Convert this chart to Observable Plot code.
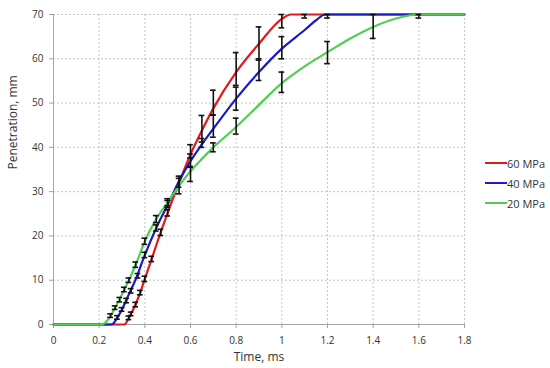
<!DOCTYPE html>
<html><head><meta charset="utf-8">
<script src="https://cdn.jsdelivr.net/npm/d3@7"></script>
<script src="https://cdn.jsdelivr.net/npm/@observablehq/plot@0.6"></script>
<style>
html,body{margin:0;padding:0;background:#fff;}
#wrap{position:relative;width:550px;height:368px;font-family:"Open Sans",sans-serif;}
#wrap svg text{fill:#333;}
.legend{position:absolute;left:485px;top:153px;font-size:11px;color:#333;}
.legend div{display:flex;align-items:center;height:20px;}
.legend span.sw{display:inline-block;width:22px;height:2.5px;margin-right:0px;}
</style></head><body><div id="wrap"></div>
<script>
// Series names and colours
const seriesNames = ["60 MPa", "40 MPa", "20 MPa"];
const seriesColors = ["#e3191b", "#1a1ac8", "#4fcf4f"];

// Tick labels
const xTicks = [0, 0.2, 0.4, 0.6, 0.8, 1.0, 1.2, 1.4, 1.6, 1.8];
const yTicks = [0, 10, 20, 30, 40, 50, 60, 70];

// Fitted curves (time, ms / penetration, mm)
const t60 = [0, 0.31, 0.33, 0.35, 0.38, 0.40, 0.43, 0.45, 0.50, 0.55, 0.60, 0.65, 0.70, 0.80, 0.90, 1.00, 1.04, 1.80];
const p60 = [0, 0, 1.5, 3.5, 7.2, 10.3, 14.8, 17.9, 25.2, 32.0, 38.4, 43.8, 48.8, 57.0, 63.4, 69.0, 70, 70];
const t40 = [0, 0.255, 0.28, 0.30, 0.33, 0.36, 0.40, 0.45, 0.50, 0.55, 0.60, 0.65, 0.70, 0.80, 0.90, 1.00, 1.10, 1.15, 1.19, 1.80];
const p40 = [0, 0, 1.6, 3.4, 6.8, 10.2, 15.7, 21.8, 27.0, 32.4, 36.9, 40.7, 44.2, 51.0, 57.0, 62.3, 66.5, 68.7, 70, 70];
const t20 = [0, 0.21, 0.24, 0.27, 0.30, 0.33, 0.36, 0.40, 0.45, 0.50, 0.55, 0.60, 0.65, 0.70, 0.80, 0.90, 1.00, 1.10, 1.20, 1.30, 1.40, 1.50, 1.60, 1.80];
const p20 = [0, 0, 1.2, 3.8, 6.8, 10.0, 13.5, 18.8, 23.8, 27.6, 31.3, 34.6, 37.4, 40.0, 44.6, 49.6, 54.5, 58.3, 61.5, 64.6, 67.2, 69.1, 70, 70];

// Experimental points with error (mean ± err)
const et60 = [0.33, 0.34, 0.36, 0.38, 0.40, 0.43, 0.47, 0.50, 0.55, 0.60, 0.65, 0.70, 0.80, 0.90, 1.00, 1.10];
const ey60 = [1.5, 2.4, 4.5, 7.2, 10.3, 14.8, 20.8, 25.2, 31.5, 39.1, 44.2, 50.1, 57.7, 63.6, 68.5, 69.6];
const ee60 = [0.4, 0.4, 0.5, 0.5, 0.6, 0.6, 0.7, 0.7, 2.0, 1.5, 3.0, 2.8, 3.7, 3.6, 1.5, 0.4];
const et40 = [0.28, 0.30, 0.32, 0.34, 0.37, 0.40, 0.45, 0.50, 0.55, 0.60, 0.65, 0.70, 0.80, 0.90, 1.00, 1.20];
const ey40 = [1.6, 3.4, 5.4, 7.6, 11.0, 15.7, 21.8, 27.2, 32.0, 37.0, 41.0, 44.8, 51.0, 57.4, 62.5, 69.6];
const ee40 = [0.4, 0.4, 0.5, 0.5, 0.5, 0.6, 0.7, 0.8, 1.0, 1.5, 1.0, 2.5, 2.6, 2.3, 2.5, 0.4];
const et20 = [0.25, 0.27, 0.29, 0.31, 0.33, 0.36, 0.40, 0.45, 0.50, 0.60, 0.70, 0.80, 1.00, 1.20, 1.40, 1.60];
const ey20 = [2.0, 3.8, 5.6, 7.9, 10.0, 13.5, 18.8, 23.8, 27.6, 34.0, 40.0, 44.8, 54.7, 61.4, 67.3, 69.6];
const ee20 = [0.4, 0.4, 0.5, 0.5, 0.5, 0.6, 0.7, 0.8, 0.8, 1.7, 1.0, 1.8, 2.3, 2.5, 2.7, 0.4];

const curveT = [t60, t40, t20], curveP = [p60, p40, p20];
const barT = [et60, et40, et20], barY = [ey60, ey40, ey20], barE = [ee60, ee40, ee20];

const curves = seriesNames.flatMap((s, i) => curveT[i].map((t, j) => ({s, t, p: curveP[i][j]})));
const bars = seriesNames.flatMap((s, i) => barT[i].map((t, j) => ({s, t, lo: barY[i][j] - barE[i][j], hi: Math.min(70, barY[i][j] + barE[i][j])})));

const cap = 0.0125;
const barStyle = {stroke: "#111", strokeWidth: 1.6};

const chart = Plot.plot({
  width: 550, height: 368,
  marginLeft: 53, marginRight: 86, marginTop: 14, marginBottom: 44,
  style: {fontFamily: '"Open Sans", sans-serif', fontSize: "10px", color: "#a0a0a0", background: "#fff", overflow: "visible"},
  x: {domain: [0, 1.8], ticks: xTicks, tickFormat: d => String(+d.toFixed(1)), tickSize: 4, tickPadding: 8, label: null},
  y: {domain: [0, 70], ticks: yTicks, tickSize: 4, tickPadding: 6, label: null},
  color: {domain: seriesNames, range: seriesColors},
  marks: [
    Plot.ruleX(xTicks.slice(1), {stroke: "#c4c4c4", strokeDasharray: "2,2"}),
    Plot.ruleY(yTicks.slice(1), {stroke: "#c4c4c4", strokeDasharray: "2,2"}),
    Plot.ruleX([0], {stroke: "#a6a6a6"}),
    Plot.ruleY([0], {stroke: "#a6a6a6"}),
    Plot.line(curves, {x: "t", y: "p", z: "s", stroke: "s", strokeWidth: 2.2, curve: "monotone-x"}),
    Plot.ruleX(bars, {x: "t", y1: "lo", y2: "hi", ...barStyle}),
    Plot.ruleY(bars, {y: "lo", x1: d => d.t - cap, x2: d => d.t + cap, ...barStyle}),
    Plot.ruleY(bars, {y: "hi", x1: d => d.t - cap, x2: d => d.t + cap, ...barStyle}),
    Plot.text(["Penetration, mm"], {text: d => d, frameAnchor: "left", dx: -40, rotate: -90, fontSize: 12}),
    Plot.text(["Time, ms"], {text: d => d, frameAnchor: "bottom", dy: 36, fontSize: 12})
  ]
});
const wrap = document.getElementById("wrap");
wrap.appendChild(chart);
const legend = document.createElement("div");
legend.className = "legend";
seriesNames.forEach((s, i) => {
  const row = document.createElement("div");
  row.innerHTML = `<span class="sw" style="background:${seriesColors[i]}"></span><span>${s}</span>`;
  legend.appendChild(row);
});
wrap.appendChild(legend);
</script>
</body></html>
